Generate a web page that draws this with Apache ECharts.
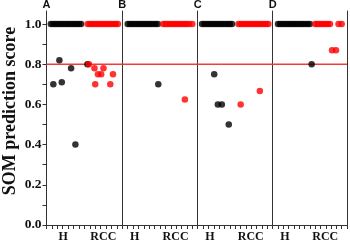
<!DOCTYPE html>
<html><head><meta charset="utf-8">
<script src="https://cdn.jsdelivr.net/npm/echarts@6/dist/echarts.min.js"></script>
<style>html,body{margin:0;padding:0;background:#fff}#c{width:350px;height:245px}</style>
</head><body><div id="c"></div>
<script>
// ---- data ----
const panelLabels = ['A', 'B', 'C', 'D'];
const groupLabels = ['H', 'RCC'];
const yTickValues = [0, 0.1, 0.2, 0.3, 0.4, 0.5, 0.6, 0.7, 0.8, 0.9, 1.0];
const yLabelValues = [0, 0.2, 0.4, 0.6, 0.8, 1.0];
const threshold = 0.8;
// x = sample position within panel (0..70)
const groupLabelPosA = [15.5, 52.5];
const groupLabelPos = [11.5, 49.5];
// samples scoring 1.0
const hPerfectA = [4, 6, 8, 10, 12, 14, 16, 18, 20, 22, 24, 26, 28, 30, 32];
const rPerfectA = [38, 40, 42, 44, 46, 48, 50, 52, 54, 56, 58, 60, 62, 64, 66];
const hPerfectB = [5, 7, 9, 11, 13, 15, 17, 19, 21, 23, 25, 27, 29, 31, 33];
const rPerfectB = [38, 40, 42, 44, 46, 48, 50, 52, 54, 56, 58, 60, 62, 65];
const hPerfectC = [4, 6, 8, 10, 12, 14, 16, 18, 20, 22, 24, 26, 28, 30, 32];
const rPerfectC = [38, 40, 42, 44, 46, 48, 50, 52, 54, 56, 58, 60, 62, 64, 66];
const hPerfectD = [5, 7, 9, 11, 13, 15, 17, 19, 21, 23, 25, 27, 29, 31, 33, 35];
const rPerfectD = [40, 42, 44, 46, 48, 50, 52, 54, 62, 65];
// samples scoring below 1.0: [position, score]
const hOtherA = [[6.3, 0.70], [11.9, 0.82], [14.1, 0.71], [22.7, 0.78], [26.7, 0.40], [37.8, 0.80]];
const rOtherA = [[39.1, 0.80], [44.3, 0.78], [45, 0.70], [47.5, 0.75], [50.5, 0.75], [52.6, 0.78], [58.9, 0.70], [61.4, 0.75]];
const hOtherB = [[33.4, 0.70]];
const rOtherB = [[58.1, 0.625]];
const hOtherC = [[15.4, 0.75], [18.8, 0.60], [22.5, 0.60], [29, 0.50]];
const rOtherC = [[40.1, 0.60], [58, 0.667]];
const hOtherD = [[36.7, 0.80]];
const rOtherD = [[55.9, 0.87], [59.6, 0.87]];

const hPerfect = [hPerfectA, hPerfectB, hPerfectC, hPerfectD];
const rPerfect = [rPerfectA, rPerfectB, rPerfectC, rPerfectD];
const hOther = [hOtherA, hOtherB, hOtherC, hOtherD];
const rOther = [rOtherA, rOtherB, rOtherC, rOtherD];

// ---- layout ----
const gridLefts = [46.5, 122.3, 197.7, 272.7];
const gridRight = 347;
const TOP = 11, HEIGHT = 214;
const YMAX = 1.065;
const XMAX = 70;
const AXIS_COLOR = '#333';
const BLACK = '#000', RED = '#ff0000', LINE_RED = '#f23b3b';
const SERIF = '"Liberation Serif", "DejaVu Serif", serif';

const grids = [], xAxes = [], yAxes = [], series = [];
gridLefts.forEach((l, i) => {
  const r = i < 3 ? gridLefts[i + 1] : gridRight;
  grids.push({left: l, top: TOP, width: r - l, height: HEIGHT});
  const lp = i === 0 ? groupLabelPosA : groupLabelPos;
  xAxes.push({
    gridIndex: i, type: 'value', min: 0, max: XMAX, interval: 5,
    splitLine: {show: false},
    axisLine: {lineStyle: {color: AXIS_COLOR, width: 1}},
    axisTick: {show: true, length: 4, inside: false, lineStyle: {color: AXIS_COLOR}},
    axisLabel: {
      show: true, customValues: lp, margin: 6,
      formatter: v => (Math.abs(v - lp[0]) < 1e-6 ? groupLabels[0] : groupLabels[1]),
      fontFamily: SERIF, fontWeight: 'bold', fontSize: 12, color: '#111'
    }
  });
  yAxes.push({
    gridIndex: i, type: 'value', min: 0, max: YMAX,
    splitLine: {show: false},
    axisLine: {show: true, onZero: false, lineStyle: {color: AXIS_COLOR, width: 1}},
    axisTick: {show: i === 0, length: 4, customValues: yTickValues, lineStyle: {color: AXIS_COLOR}},
    axisLabel: {
      show: i === 0, customValues: yLabelValues, margin: 5,
      formatter: v => v.toFixed(1),
      fontFamily: SERIF, fontWeight: 'bold', fontSize: 13.5, color: '#111'
    }
  });
  // threshold line
  series.push({
    type: 'line', xAxisIndex: i, yAxisIndex: i, z: 1, symbol: 'none', silent: true,
    lineStyle: {color: LINE_RED, width: 1.5},
    data: [[0, threshold], [XMAX, threshold]]
  });
  const sym = {type: 'scatter', xAxisIndex: i, yAxisIndex: i, symbolSize: 6.5, z: 3, silent: true};
  series.push(Object.assign({}, sym, {itemStyle: {color: BLACK}, data: hPerfect[i].map(x => [x, 1.0])}));
  series.push(Object.assign({}, sym, {itemStyle: {color: BLACK}, data: hOther[i]}));
  series.push(Object.assign({}, sym, {z: 4, itemStyle: {color: RED}, data: rPerfect[i].map(x => [x, 1.0])}));
  series.push(Object.assign({}, sym, {z: 4, itemStyle: {color: RED}, data: rOther[i]}));
});
// right border of last panel
yAxes.push({
  gridIndex: 3, type: 'value', position: 'right', min: 0, max: YMAX,
  splitLine: {show: false}, axisTick: {show: false}, axisLabel: {show: false},
  axisLine: {show: true, onZero: false, lineStyle: {color: AXIS_COLOR, width: 1}}
});

const graphic = panelLabels.map((t, i) => ({
  type: 'text', x: gridLefts[i], y: 5,
  style: {text: t, fontFamily: '"Liberation Sans", Arial, sans-serif', fontWeight: 'bold', fontSize: 11,
    fill: '#111', align: 'center', verticalAlign: 'middle'}
}));
graphic.push({
  type: 'text', x: 10, y: 111, rotation: Math.PI / 2,
  style: {text: 'SOM prediction score', fontFamily: SERIF, fontWeight: 'bold', fontSize: 18,
    fill: '#111', align: 'center', verticalAlign: 'middle'}
});

const chart = echarts.init(document.getElementById('c'), null, {renderer: 'canvas'});
chart.setOption({
  animation: false, backgroundColor: '#fff',
  grid: grids, xAxis: xAxes, yAxis: yAxes, series: series, graphic: graphic
});
</script></body></html>
